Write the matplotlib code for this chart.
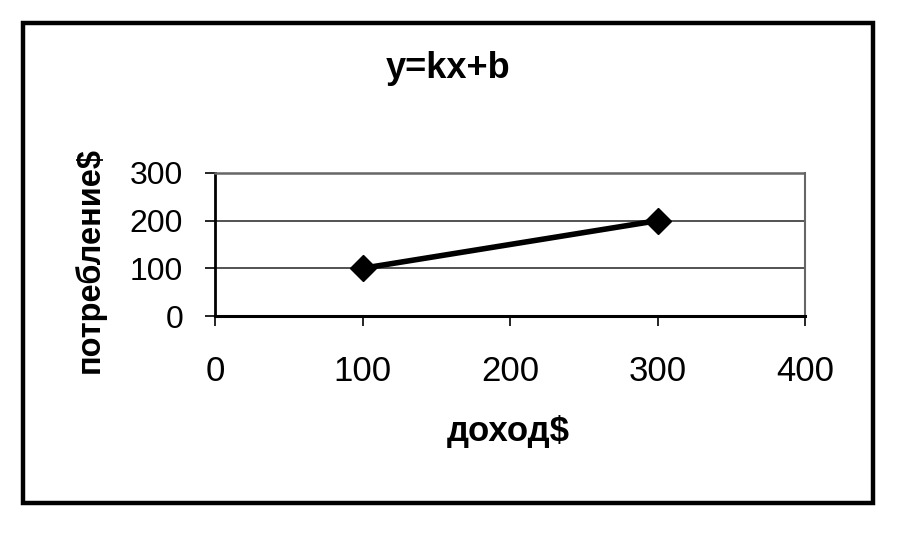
import matplotlib
matplotlib.use('Agg')
import matplotlib.pyplot as plt
from matplotlib.patches import Rectangle

plt.rcParams['font.family'] = ['Liberation Sans', 'DejaVu Sans']

# data
income = [100, 300]
consumption = [100, 200]
x_ticks = [0, 100, 200, 300, 400]
y_ticks = [0, 100, 200, 300]

W, H = 914, 541
fig = plt.figure(figsize=(W / 100, H / 100), dpi=100)

# outer chart frame
fig.patches.append(Rectangle((23 / W, 1 - 503 / H), 850 / W, 480 / H,
                             transform=fig.transFigure, fill=False,
                             ec='black', lw=3.2))

ax = fig.add_axes([215 / W, 1 - 316 / H, 590 / W, 143 / H])
ax.plot(income, consumption, color='black', lw=4, marker='D', ms=13,
        zorder=3, clip_on=False)

ax.set_xlim(0, 400)
ax.set_ylim(0, 300)
ax.set_xticks(x_ticks)
ax.set_yticks(y_ticks)
ax.tick_params(axis='x', direction='out', length=7, width=1.2, pad=21,
               labelsize=25)
ax.tick_params(axis='y', direction='out', length=7, width=1.2, pad=16,
               labelsize=23)

for y in [100, 200]:
    ax.axhline(y, color='#444444', lw=1.3, zorder=1)

ax.spines['left'].set_linewidth(2)
ax.spines['bottom'].set_linewidth(2.2)
ax.spines['top'].set_linestyle((0, (1, 1)))
ax.spines['top'].set_color('#666666')
ax.spines['top'].set_linewidth(1.8)
ax.spines['right'].set_linestyle((0, (1, 1)))
ax.spines['right'].set_color('#666666')
ax.spines['right'].set_linewidth(1.5)

fig.text(448 / W, 1 - 68 / H, 'y=kx+b', ha='center', va='center',
         fontsize=26, fontweight='bold')
fig.text(508 / W, 1 - 432 / H, 'доход$', ha='center', va='center',
         fontsize=25, fontweight='bold')
fig.text(90 / W, 1 - 260 / H, 'потребление$', ha='center', va='center',
         rotation=90, fontsize=23.5, fontweight='bold')

fig.savefig('out.png', dpi=100)
